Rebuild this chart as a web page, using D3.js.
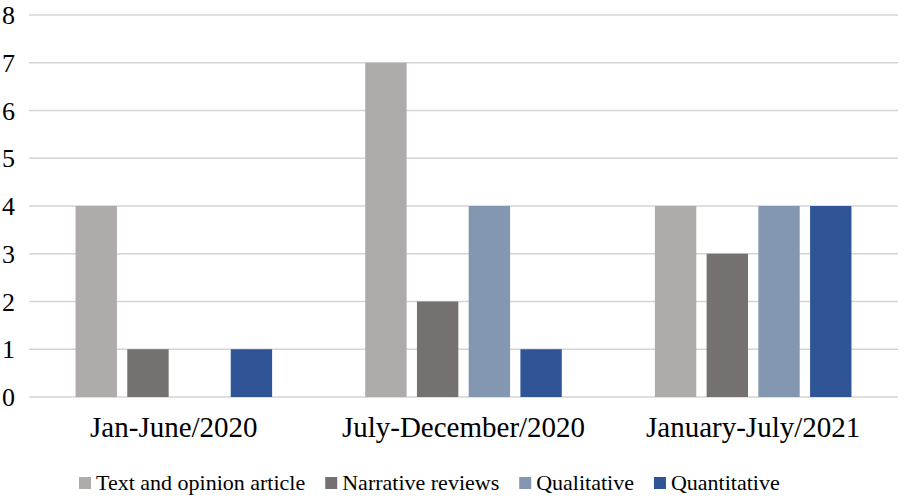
<!DOCTYPE html>
<meta charset="utf-8">
<style>
  body { margin: 0; background: #fff; }
  svg text { font-family: "Liberation Serif", "Times New Roman", serif; fill: #000; }
  .grid line { stroke: #d4d4d4; stroke-width: 1.5; }
</style>
<script src="https://d3js.org/d3.v7.min.js"></script>
<body>
<svg id="chart" width="904" height="498"></svg>
<script>
  var periods = ["Jan-June/2020", "July-December/2020", "January-July/2021"];
  var seriesNames = ["Text and opinion article", "Narrative reviews", "Qualitative", "Quantitative"];
  var textOpinion = [4, 7, 4];
  var narrative = [1, 2, 3];
  var qualitative = [0, 4, 4];
  var quantitative = [1, 1, 4];
  var yTicks = [0, 1, 2, 3, 4, 5, 6, 7, 8];
  var colours = ["#afabab", "#767171", "#8497b0", "#2f5597"];

  var values = [textOpinion, narrative, qualitative, quantitative];

  var svg = d3.select("#chart");
  var plotLeft = 29, plotRight = 898, plotTop = 15, plotBottom = 397;

  var x = d3.scaleBand().domain(periods).range([plotLeft, plotRight]);
  var xs = d3.scaleBand().domain(seriesNames).range([0, x.bandwidth()])
    .paddingInner(0.2).paddingOuter(0.9);
  var y = d3.scaleLinear().domain([0, 8]).range([plotBottom, plotTop]);

  // gridlines
  svg.append("g").attr("class", "grid")
    .selectAll("line").data(yTicks).join("line")
    .attr("x1", plotLeft).attr("x2", plotRight)
    .attr("y1", d => y(d)).attr("y2", d => y(d));

  // y labels
  svg.append("g").selectAll("text").data(yTicks).join("text")
    .attr("x", 15).attr("y", d => y(d) + 9)
    .attr("text-anchor", "end")
    .style("font-size", "26px")
    .text(d => d);

  // bars
  seriesNames.forEach((s, i) => {
    svg.append("g").selectAll("rect").data(values[i]).join("rect")
      .attr("x", (d, j) => x(periods[j]) + xs(s))
      .attr("width", xs.bandwidth())
      .attr("y", d => y(d))
      .attr("height", d => y(0) - y(d))
      .attr("fill", colours[i]);
  });

  // category labels
  svg.append("g").selectAll("text").data(periods).join("text")
    .attr("x", d => x(d) + x.bandwidth() / 2)
    .attr("y", 437)
    .attr("text-anchor", "middle")
    .style("font-size", "29px")
    .text(d => d);

  // legend, laid out left to right from measured text widths
  var legend = svg.append("g").selectAll("g").data(seriesNames).join("g");
  legend.append("rect").attr("x", 0).attr("y", 477).attr("width", 12).attr("height", 12)
    .attr("fill", (d, i) => colours[i]);
  legend.append("text").attr("x", 17).attr("y", 490)
    .style("font-size", "22px")
    .text(d => d);

  var lx = 79;
  legend.each(function() {
    var g = d3.select(this);
    g.attr("transform", "translate(" + lx + ",0)");
    lx += 17 + g.select("text").node().getComputedTextLength() + 20;
  });
</script>
</body>
